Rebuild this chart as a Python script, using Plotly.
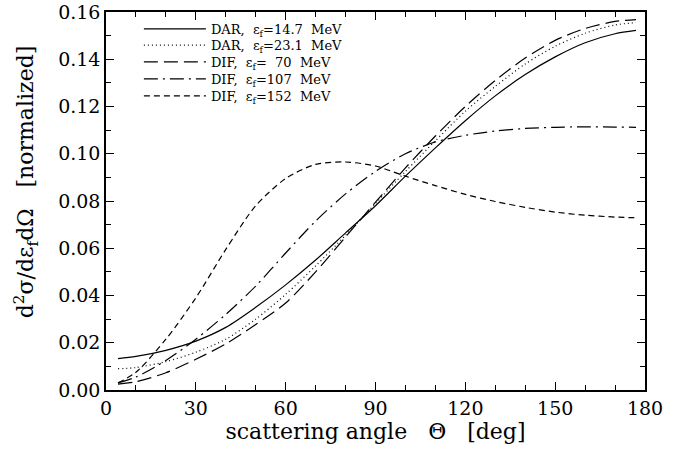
import plotly.graph_objects as go

angles = [4, 10, 20, 30, 40, 50, 60, 70, 80, 90, 100, 110, 120, 130, 140, 150, 160, 170, 177]

dar_147 = [0.0133, 0.0142, 0.0168, 0.0207, 0.0265, 0.0350, 0.0445, 0.0550, 0.0665, 0.0780,
           0.0905, 0.1025, 0.1140, 0.1245, 0.1335, 0.1410, 0.1470, 0.1508, 0.1522]
dar_231 = [0.0090, 0.0095, 0.0120, 0.0160, 0.0215, 0.0300, 0.0405, 0.0525, 0.0655, 0.0790,
           0.0925, 0.1055, 0.1180, 0.1285, 0.1380, 0.1455, 0.1510, 0.1545, 0.1555]
dif_70 = [0.0025, 0.0035, 0.0073, 0.0130, 0.0195, 0.0277, 0.0368, 0.0500, 0.0648, 0.0795,
          0.0940, 0.1075, 0.1200, 0.1310, 0.1405, 0.1480, 0.1530, 0.1560, 0.1568]
dif_107 = [0.0030, 0.0055, 0.0125, 0.0215, 0.0320, 0.0440, 0.0580, 0.0715, 0.0830, 0.0925,
           0.1000, 0.1050, 0.1078, 0.1096, 0.1107, 0.1112, 0.1114, 0.1113, 0.1112]
dif_152 = [0.0030, 0.0075, 0.0215, 0.0390, 0.0595, 0.0780, 0.0895, 0.0955, 0.0965, 0.0948,
           0.0905, 0.0865, 0.0828, 0.0798, 0.0773, 0.0753, 0.0740, 0.0732, 0.0729]

series_names = [
    "DAR,  ε<sub>f</sub>=14.7  MeV",
    "DAR,  ε<sub>f</sub>=23.1  MeV",
    "DIF,  ε<sub>f</sub>=\u00a0\u00a070  MeV",
    "DIF,  ε<sub>f</sub>=107  MeV",
    "DIF,  ε<sub>f</sub>=152  MeV",
]
series_values = [dar_147, dar_231, dif_70, dif_107, dif_152]
dashes = ["solid", "1px,3px", "14px,6px", "14px,5px,2px,5px", "6px,4px"]

x_ticks = [0, 30, 60, 90, 120, 150, 180]
y_ticks = [0.00, 0.02, 0.04, 0.06, 0.08, 0.10, 0.12, 0.14, 0.16]

font_family = "DejaVu Serif"
legend_ids = ["legend", "legend2", "legend3", "legend4", "legend5"]
legend_rows = [0.955, 0.912, 0.868, 0.823, 0.778]

fig = go.Figure()
for name, vals, dash, lid in zip(series_names, series_values, dashes, legend_ids):
    fig.add_trace(go.Scatter(
        x=angles, y=vals, mode="lines", name=name, legend=lid,
        line=dict(color="black", width=1.2, dash=dash, shape="spline", smoothing=0.8),
    ))

legend_layout = {}
for lid, ypos in zip(legend_ids, legend_rows):
    legend_layout[lid] = dict(
        x=0.061, y=ypos, xanchor="left", yanchor="middle",
        bgcolor="rgba(0,0,0,0)", borderwidth=0,
        font=dict(family=font_family, size=13, color="black"),
        itemwidth=62,
    )

fig.update_layout(
    width=680, height=454,
    margin=dict(l=106, r=35, t=12, b=64, autoexpand=False),
    paper_bgcolor="white", plot_bgcolor="white",
    font=dict(family=font_family, color="black", size=19),
    showlegend=True,
    xaxis=dict(
        range=[0, 180], tickvals=x_ticks, ticktext=[str(v) for v in x_ticks],
        ticks="inside", ticklen=8, tickwidth=1.2, tickcolor="black",
        minor=dict(ticks="inside", dtick=10, ticklen=5, tickwidth=1, tickcolor="black"),
        showline=True, linecolor="black", linewidth=1.5, mirror="allticks",
        showgrid=False, zeroline=False, automargin=False,
        tickfont=dict(size=19, family=font_family),
        title=dict(text="scattering angle\u00a0\u00a0\u00a0Θ\u00a0\u00a0\u00a0[deg]",
                   font=dict(size=22, family=font_family), standoff=0),
    ),
    yaxis=dict(
        range=[0, 0.16], tickvals=y_ticks, ticktext=["%.2f" % v for v in y_ticks],
        ticks="inside", ticklen=8, tickwidth=1.2, tickcolor="black",
        minor=dict(ticks="inside", dtick=0.01, ticklen=5, tickwidth=1, tickcolor="black"),
        showline=True, linecolor="black", linewidth=1.5, mirror="allticks",
        showgrid=False, zeroline=False, automargin=False,
        tickfont=dict(size=19, family=font_family),
        ticklabeloverflow="allow",
    ),
    annotations=[dict(
        text="d<sup>2</sup>σ/dε<sub>f</sub>dΩ\u00a0\u00a0\u00a0[normalized]",
        xref="paper", yref="paper", x=-0.148, y=0.55,
        xanchor="center", yanchor="middle", textangle=-90, showarrow=False,
        font=dict(size=22, family=font_family, color="black"),
    )],
    **legend_layout,
)

fig.write_html("out.html", config={"displayModeBar": False},
               post_script="document.body.style.margin='0';")
